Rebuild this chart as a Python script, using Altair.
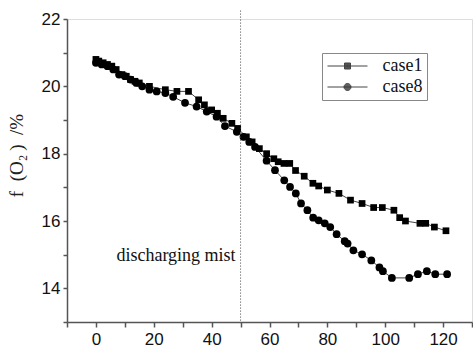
import altair as alt
import pandas as pd

# case1 (squares)
c1_t = [0, 1, 2.5, 4, 5.5, 7, 9, 10.5, 12, 13.5, 15, 18.5, 24, 28, 32, 35.5, 37.5, 40, 42, 44, 47,
        49, 52, 54, 56.5, 59, 61.5, 63, 65, 67, 69, 72, 75, 77, 80, 84, 88, 92, 96, 99, 103,
        105, 107, 112, 114, 117, 121]
c1_v = [20.8, 20.75, 20.7, 20.65, 20.6, 20.5, 20.35, 20.3, 20.2, 20.15, 20.1, 20.0, 19.9, 19.85,
        19.85, 19.6, 19.45, 19.3, 19.2, 19.05, 18.9, 18.75, 18.5, 18.35, 18.15, 18.0, 17.85,
        17.76, 17.71, 17.71, 17.5, 17.33, 17.12, 17.04, 16.92, 16.82, 16.62, 16.52, 16.4, 16.4,
        16.32, 16.1, 16.0, 15.93, 15.93, 15.82, 15.71]

# case8 (circles)
c8_t = [0, 2, 4, 6, 8, 10, 12, 14, 16, 18.5, 21, 24, 26.7, 30.8, 34.8, 38.3, 41.7, 44.6, 48.7,
        51, 53, 55, 59, 61.9, 65.1, 67.1, 69.1, 70.9, 73.1, 75.1, 77, 79.1, 81, 83.2, 86, 87,
        89, 92, 95.2, 98, 99.2, 102.3, 108.3, 111.3, 114.4, 117.3, 121.4]
c8_v = [20.7, 20.65, 20.6, 20.5, 20.35, 20.3, 20.2, 20.1, 20.0, 19.9, 19.85, 19.8, 19.69, 19.51,
        19.4, 19.25, 19.1, 18.82, 18.65, 18.5, 18.35, 18.2, 17.79, 17.51, 17.21, 17.01, 16.82,
        16.52, 16.32, 16.1, 16.02, 15.93, 15.82, 15.61, 15.4, 15.33, 15.13, 15.01, 14.83, 14.62,
        14.51, 14.31, 14.31, 14.42, 14.51, 14.42, 14.42]

cases = ["case1", "case8"]
x_ticks = list(range(-10, 131, 10))
y_ticks = list(range(13, 23, 1))
mist_x = 50
mist_label = "discharging mist"
y_title = "f\u2002(O\u2082\u2009)\u2002/%"

df = pd.concat([
    pd.DataFrame({"t": c1_t, "v": c1_v, "case": cases[0]}),
    pd.DataFrame({"t": c8_t, "v": c8_v, "case": cases[1]}),
])

xs = alt.Scale(domain=[-10, 130], nice=False, zero=False)
ys = alt.Scale(domain=[13, 22], nice=False, zero=False)

xaxis = alt.Axis(values=x_ticks, title=None, grid=False,
                 labelExpr="datum.value % 20 == 0 ? datum.label : ''",
                 labelOverlap=False, labelFlush=False,
                 tickSize=5, labelPadding=4, labelFont="Liberation Sans", labelFontSize=17,
                 labelColor="#111", domainColor="#555", tickColor="#555",
                 domainWidth=1.5, tickWidth=1.5)
yaxis = alt.Axis(values=y_ticks, title=y_title, grid=False,
                 labelExpr="datum.value % 2 == 0 ? datum.label : ''",
                 labelOverlap=False, labelFlush=False,
                 tickSize=4,
                 labelPadding=3, labelFont="Liberation Sans", labelFontSize=17,
                 labelColor="#111", domainColor="#555", tickColor="#555",
                 domainWidth=1.5, tickWidth=1.5,
                 titleFont="Liberation Serif", titleFontSize=19, titleFontWeight="normal",
                 titleColor="#222", titleX=-51, titleY=136, titleAngle=270,
                 titleAlign="center", titleBaseline="middle")

base = alt.Chart(df)

lines = base.mark_line(color="#444", strokeWidth=1).encode(
    x=alt.X("t:Q", scale=xs, axis=xaxis),
    y=alt.Y("v:Q", scale=ys, axis=yaxis),
    detail="case:N",
)

pts = base.mark_point(filled=True, color="black", opacity=1).encode(
    x=alt.X("t:Q", scale=xs, axis=xaxis),
    y=alt.Y("v:Q", scale=ys, axis=yaxis),
    shape=alt.Shape("case:N", scale=alt.Scale(domain=cases, range=["square", "circle"]), legend=None),
    size=alt.Size("case:N", scale=alt.Scale(domain=cases, range=[45, 60]), legend=None),
)

# legend glyphs: a line through a solid marker (marker built from nested outlines)
sq_path = "M-2.667,0H2.667" + "".join(
    f"M-{s},-{s}H{s}V{s}H-{s}Z" for s in ["0.40", "0.32", "0.24", "0.16", "0.08", "0.02"])
ci_path = "M-2.667,0H2.667" + "".join(
    f"M{r},0A{r},{r},0,1,1,-{r},0A{r},{r},0,1,1,{r},0Z"
    for r in ["0.47", "0.39", "0.31", "0.23", "0.15", "0.07"])

legend_layer = base.mark_point(filled=False, color="#444", strokeWidth=1, opacity=0).encode(
    x=alt.X("t:Q", scale=xs, axis=xaxis),
    y=alt.Y("v:Q", scale=ys, axis=yaxis),
    shape=alt.Shape("case:N", scale=alt.Scale(domain=cases, range=[sq_path, ci_path]),
                    legend=alt.Legend(title=None, orient="none", legendX=255, legendY=34,
                                      strokeColor="#888", padding=4, symbolSize=225,
                                      symbolOffset=12.5, symbolOpacity=1,
                                      symbolStrokeColor="#444", symbolStrokeWidth=1,
                                      labelFont="Liberation Serif", labelFontSize=18,
                                      labelColor="#111", labelOffset=26, rowPadding=3)),
)

rule = alt.Chart(pd.DataFrame({"x": [mist_x]})).mark_rule(
    color="#444", strokeDash=[1, 2], strokeWidth=1
).encode(
    x=alt.X("x:Q", scale=xs, axis=xaxis),
    y=alt.YDatum(22.25, scale=ys, axis=yaxis),
    y2=alt.Y2Datum(13),
)

txt = alt.Chart(pd.DataFrame({"x": [mist_x], "y": [14.95], "label": [mist_label]})).mark_text(
    align="right", baseline="middle", dx=-5, font="Liberation Serif", fontSize=18, color="#111"
).encode(x=alt.X("x:Q", scale=xs, axis=xaxis), y=alt.Y("y:Q", scale=ys, axis=yaxis), text="label:N")

chart = alt.layer(lines, pts, legend_layer, rule, txt).resolve_scale(
    shape="independent", size="independent"
).properties(
    width=405, height=303,
    padding={"left": 67, "top": 19, "right": 1, "bottom": 30},
    autosize=alt.AutoSizeParams(type="none"),
).configure_view(stroke=None).configure(background="white")

chart.save("out.html", embed_options={"renderer": "svg", "actions": False})
